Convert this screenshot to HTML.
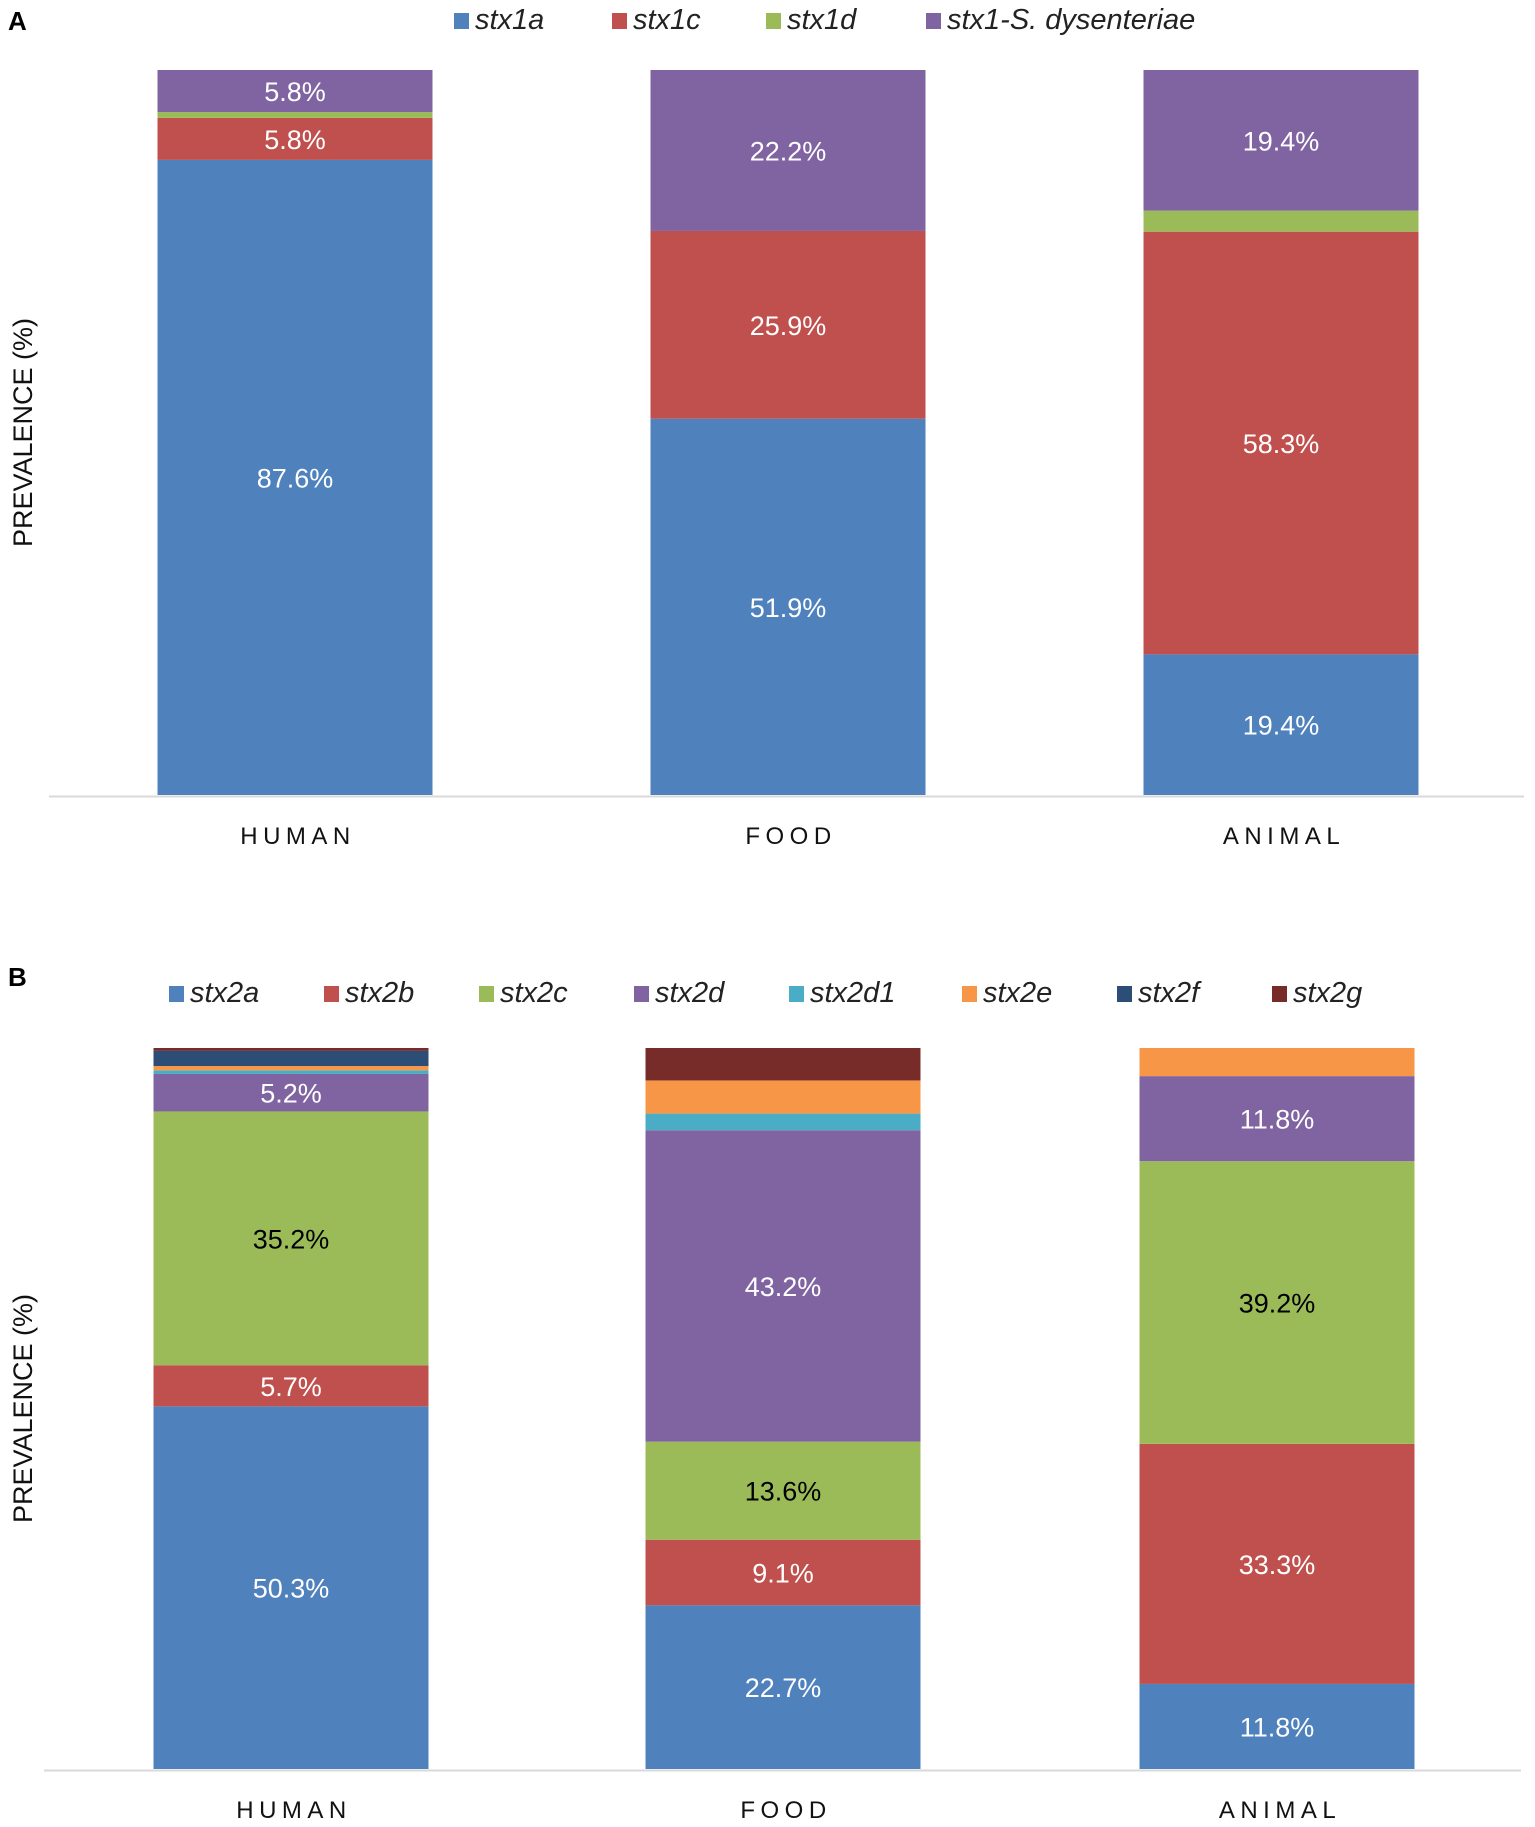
<!DOCTYPE html>
<html><head><meta charset="utf-8"><style>
html,body{margin:0;padding:0;background:#fff;}
svg{display:block;font-family:"Liberation Sans",sans-serif;}
</style></head><body>
<svg id="chart" width="1535" height="1827" viewBox="0 0 1535 1827" xmlns="http://www.w3.org/2000/svg"></svg>
<script>
const categories = ["HUMAN","FOOD","ANIMAL"];
// Panel A
const seriesA = ["stx1a","stx1c","stx1d","stx1-S. dysenteriae"];
const colorsA = ["#4f81bd","#c0504d","#9bbb59","#8064a2"];
const humanA = [87.6, 5.8, 0.8, 5.8];
const foodA = [51.9, 25.9, 0, 22.2];
const animalA = [19.4, 58.3, 2.9, 19.4];
const labelsA = [["87.6%","5.8%","","5.8%"],["51.9%","25.9%","","22.2%"],["19.4%","58.3%","","19.4%"]];
// Panel B
const seriesB = ["stx2a","stx2b","stx2c","stx2d","stx2d1","stx2e","stx2f","stx2g"];
const colorsB = ["#4f81bd","#c0504d","#9bbb59","#8064a2","#4bacc6","#f79646","#2c4d75","#772c2a"];
const humanB = [50.3, 5.7, 35.2, 5.2, 0.5, 0.6, 2.1, 0.4];
const foodB = [22.7, 9.1, 13.6, 43.2, 2.3, 4.6, 0, 4.5];
const animalB = [11.8, 33.3, 39.2, 11.8, 0, 3.9, 0, 0];
const labelsB = [["50.3%","5.7%","35.2%","5.2%","","","",""],["22.7%","9.1%","13.6%","43.2%","","","",""],["11.8%","33.3%","39.2%","11.8%","","","",""]];

const NS="http://www.w3.org/2000/svg";
const svg=document.getElementById('chart');
function mk(tag,attrs,parent){const e=document.createElementNS(NS,tag);for(const k in attrs)e.setAttribute(k,attrs[k]);(parent||svg).appendChild(e);return e;}

function panel(cfg){
  const g=mk('g',{});
  
  
  const yScale=v=>(cfg.bottom-cfg.top)*v/100;
  const xCenter=i=>cfg.centers[i];
  const L=mk('text',{x:8,y:cfg.letterY,'font-size':26,'font-weight':'bold',fill:'#000'},g);
  L.textContent=cfg.letter;
  
  
  let lx=cfg.legendX;
  cfg.series.forEach((s,i)=>{
    const sw=mk('rect',{x:lx,y:cfg.legendY-16,width:15,height:16,fill:cfg.colors[i]},g);
    
    
    const t=mk('text',{x:lx+21,y:cfg.legendY,'font-size':29,'font-style':'italic',fill:'#222'},g);
    t.textContent=s;
    
    
    lx+=cfg.legendGaps[i];
  });
  const yc=(cfg.top+cfg.bottom)/2;
  const yt=mk('text',{x:0,y:0,transform:`translate(32,${yc}) rotate(-90)`,'text-anchor':'middle','font-size':27,fill:'#111'},g);
  yt.textContent='PREVALENCE (%)';
  
  
  cfg.data.forEach((vals,ci)=>{
    let acc=0;
    const cx=xCenter(ci);
    vals.forEach((v,si)=>{
      if(v<=0)return;
      const y1=cfg.bottom-yScale(acc+v), h=yScale(v);
      const r=mk('rect',{x:cx-cfg.bw/2,y:y1,width:cfg.bw,height:h,fill:cfg.colors[si]},g);
      
      
      const lab=cfg.labels[ci][si];
      if(lab){
        const t=mk('text',{x:cx,y:y1+h/2+10,'text-anchor':'middle','font-size':27,fill:cfg.colors[si]==="#9bbb59"?'#000':'#fff'},g);
        t.textContent=lab;
        
        
      }
      acc+=v;
    });
    const c=mk('text',{x:cx+3,y:cfg.catY,'text-anchor':'middle','font-size':24,'letter-spacing':5.5,fill:'#111'},g);
    c.textContent=categories[ci];
    
    
  });
  const ax=mk('line',{x1:cfg.axisX1,x2:cfg.axisX2,y1:cfg.bottom+1.5,y2:cfg.bottom+1.5,stroke:'#d9d9d9','stroke-width':2},g);
  
  
}

panel({name:'panel-a-stx1',letter:'A',letterY:30,series:seriesA,colors:colorsA,
  data:[humanA,foodA,animalA],labels:labelsA,top:70,bottom:795,centers:[295,788,1281],bw:275,
  legendX:454,legendY:29,legendGaps:[158,154,160,0],catY:844,axisX1:49,axisX2:1524});
panel({name:'panel-b-stx2',letter:'B',letterY:986,series:seriesB,colors:colorsB,
  data:[humanB,foodB,animalB],labels:labelsB,top:1048,bottom:1769,centers:[291,783,1277],bw:275,
  legendX:169,legendY:1002,legendGaps:[155,155,155,155,173,155,155,0],catY:1818,axisX1:44,axisX2:1521});
</script>
</body></html>
